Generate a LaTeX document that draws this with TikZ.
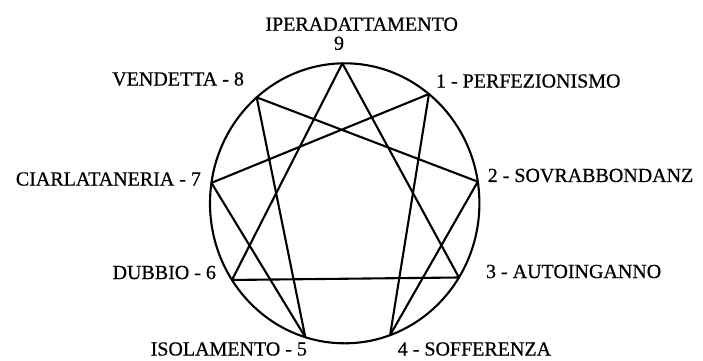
\documentclass[tikz,border=0pt]{standalone}
\usepackage{fontspec}
\setmainfont{Liberation Serif}[FakeBold=0.6]

\begin{document}
\begin{tikzpicture}[x=1pt, y=-1pt, line width=2.1pt, line join=round,
  etichetta/.style={inner sep=0pt, font=\fontsize{20}{24}\selectfont}]
  \useasboundingbox (0,0) rectangle (703,360);

  \coordinate (O) at (344.7,203.3);
  \draw (O) ellipse [x radius=134.7pt, y radius=140pt];

  \coordinate (p9) at ([shift={(91:134.7pt and 140pt)}]O);
  \coordinate (p1) at ([shift={(51.3:134.7pt and 140pt)}]O);
  \coordinate (p2) at ([shift={(8.9:134.7pt and 140pt)}]O);
  \coordinate (p3) at ([shift={(-32:134.7pt and 140pt)}]O);
  \coordinate (p4) at ([shift={(-70.3:134.7pt and 140pt)}]O);
  \coordinate (p5) at ([shift={(253:134.7pt and 140pt)}]O);
  \coordinate (p6) at ([shift={(213.2:134.7pt and 140pt)}]O);
  \coordinate (p7) at ([shift={(171.6:134.7pt and 140pt)}]O);
  \coordinate (p8) at ([shift={(130.8:134.7pt and 140pt)}]O);

  \draw (p9) -- (p3) -- (p6) -- cycle; % triangolo
  \draw (p1) -- (p4) -- (p2) -- (p8) -- (p5) -- (p7) -- cycle; % esagono

  \node[etichetta] (t9) at (361.7,24.2) {IPERADATTAMENTO};
  \node[etichetta] (n9) at (339,43.2) {9};
  \node[etichetta, anchor=east] (t8) at (245,79) {VENDETTA - 8};
  \node[etichetta, anchor=west] (t1) at (435,81) {1 - PERFEZIONISMO};
  \node[etichetta, anchor=east] (t7) at (202,179) {CIARLATANERIA - 7};
  \node[etichetta, anchor=west] (t2) at (486.7,175.5) {2 - SOVRABBONDANZ};
  \node[etichetta, anchor=east] (t6) at (217,272.5) {DUBBIO - 6};
  \node[etichetta, anchor=west] (t3) at (485,271.5) {3 - AUTOINGANNO};
  \node[etichetta, anchor=east] (t5) at (308,349) {ISOLAMENTO - 5};
  \node[etichetta, anchor=west] (t4) at (396.7,349) {4 - SOFFERENZA};
\end{tikzpicture}
\end{document}
